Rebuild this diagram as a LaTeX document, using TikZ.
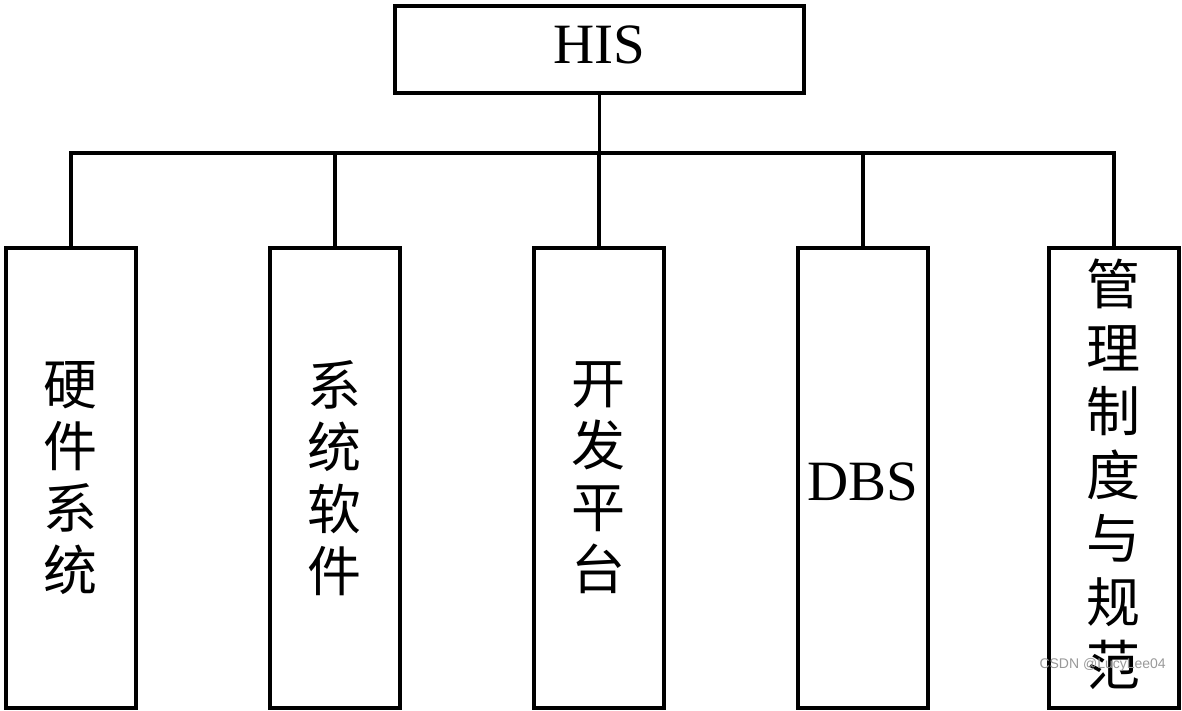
\documentclass[tikz,border=0pt]{standalone}
\usepackage{fontspec}
\setmainfont{Liberation Serif}
\newfontfamily\cjk{Noto Sans CJK SC}
\newfontfamily\wmfont{Liberation Sans}
\begin{document}
\begin{tikzpicture}[x=1pt,y=-1pt,
  box/.style={draw,line width=3.5pt,inner sep=0pt,anchor=north west},
  conn/.style={line width=3.5pt},
  vtext/.style={font=\cjk\fontsize{54}{62}\selectfont,align=center,text width=60pt,inner sep=0pt},
  ltext/.style={font=\fontsize{57}{62}\selectfont,inner sep=0pt}]
\useasboundingbox (0,0) rectangle (1182,710);
\node[box,minimum width=409pt,minimum height=87pt] (his) at (393,4) {};
\node[ltext] at ([yshift=4pt]his.center) {HIS};
\foreach \n/\x in {a/4,b/268,c/532,d/796,e/1047}{
  \node[box,minimum width=130pt,minimum height=460pt] (\n) at (\x,246) {};
}
\coordinate (bus) at (his.south |- 0,153);
\draw[conn] (his.south) -- (bus);
\draw[conn] (a.north) |- (bus) -| (e.north);
\draw[conn] (b.north) -- (b.north |- bus);
\draw[conn] (c.north) -- (c.north |- bus);
\draw[conn] (d.north) -- (d.north |- bus);
\node[vtext] at (a.center) {硬\\件\\系\\统};
\node[vtext] at (b.center) {系\\统\\软\\件};
\node[vtext] at (c.center) {开\\发\\平\\台};
\node[ltext] at ([yshift=-4pt]d.center) {DBS};
\node[font=\cjk\fontsize{54}{63.5}\selectfont,align=center,text width=60pt,inner sep=0pt] at ([yshift=3pt]e.center) {管\\理\\制\\度\\与\\规\\范};
\node[font=\wmfont\fontsize{14}{16}\selectfont,text=black!40,anchor=east,inner sep=0pt] (wm) at (1166,665) {CSDN @LucyLee04};
\end{tikzpicture}
\end{document}
